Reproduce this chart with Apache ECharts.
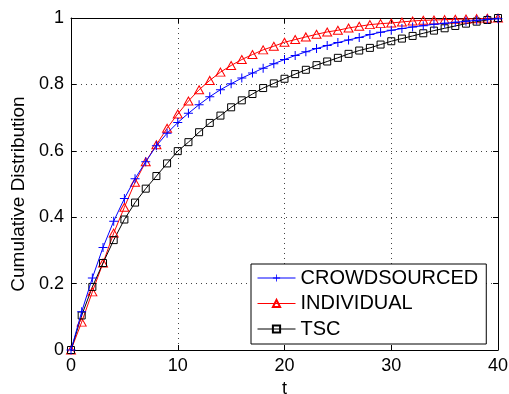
<!DOCTYPE html>
<html>
<head>
<meta charset="utf-8">
<script src="https://cdn.jsdelivr.net/npm/echarts@6/dist/echarts.min.js"></script>
<style>
  html, body { margin: 0; padding: 0; background: #fff; }
  #chart { width: 509px; height: 394px; }
</style>
</head>
<body>
<div id="chart"></div>
<script>
// t values (x axis)
var tValues = [0, 1, 2, 3, 4, 5, 6, 7, 8, 9, 10, 11, 12, 13, 14, 15, 16, 17, 18, 19, 20,
  21, 22, 23, 24, 25, 26, 27, 28, 29, 30, 31, 32, 33, 34, 35, 36, 37, 38, 39, 40];

// cumulative distribution
var crowdsourced = [0, 0.115, 0.217, 0.309, 0.388, 0.456, 0.516, 0.567, 0.615, 0.653, 0.685,
  0.713, 0.739, 0.763, 0.784, 0.802, 0.819, 0.834, 0.849, 0.862, 0.875,
  0.887, 0.898, 0.908, 0.917, 0.926, 0.934, 0.941, 0.950, 0.957, 0.963,
  0.968, 0.973, 0.977, 0.981, 0.984, 0.987, 0.990, 0.993, 0.996, 0.998];
var individual = [0, 0.084, 0.175, 0.262, 0.352, 0.430, 0.505, 0.567, 0.618, 0.668, 0.711,
  0.750, 0.784, 0.812, 0.837, 0.857, 0.875, 0.890, 0.904, 0.915, 0.927,
  0.935, 0.943, 0.951, 0.958, 0.963, 0.970, 0.975, 0.980, 0.983, 0.985,
  0.988, 0.991, 0.993, 0.994, 0.995, 0.996, 0.997, 0.998, 0.999, 1.0];
var tsc = [0, 0.104, 0.190, 0.262, 0.331, 0.393, 0.444, 0.486, 0.524, 0.562, 0.599,
  0.626, 0.656, 0.684, 0.706, 0.731, 0.752, 0.771, 0.789, 0.803, 0.817,
  0.831, 0.844, 0.858, 0.869, 0.880, 0.892, 0.902, 0.910, 0.920, 0.930,
  0.938, 0.946, 0.954, 0.962, 0.969, 0.976, 0.983, 0.989, 0.994, 1.0];

var xTicks = [0, 10, 20, 30, 40];
var yTicks = [0, 0.2, 0.4, 0.6, 0.8, 1];

function pairs(ys) {
  return tValues.map(function (t, i) { return [t, ys[i]]; });
}

var FONT = 'Liberation Sans, Arial, Helvetica, sans-serif';
var plusPath = 'path://M4,0H5V4H9V5H5V9H4V5H0V4H4Z';

var chart = echarts.init(document.getElementById('chart'), null, { renderer: 'canvas' });

var boxAxis = {
  show: true,
  axisLine: { show: true, onZero: false, lineStyle: { color: '#000', width: 1 } },
  axisTick: { show: true, inside: true, length: 5, lineStyle: { color: '#000' } },
  axisLabel: { show: false },
  splitLine: { show: false }
};

var option = {
  animation: false,
  backgroundColor: '#fff',
  grid: { left: 71, right: 11, top: 18, bottom: 44, containLabel: false, outerBoundsMode: 'none' },
  xAxis: [{
    type: 'value', min: 0, max: 40, interval: 10,
    name: 't', nameLocation: 'middle', nameGap: 28,
    nameTextStyle: { fontFamily: FONT, fontSize: 18, color: '#000' },
    axisLine: { show: true, onZero: false, lineStyle: { color: '#000', width: 1 } },
    axisTick: { show: true, inside: true, length: 5, lineStyle: { color: '#000' } },
    axisLabel: { fontFamily: FONT, fontSize: 18, color: '#000', margin: 7,
      formatter: function (v) { return xTicks.indexOf(v) >= 0 ? String(v) : ''; } },
    splitLine: { show: true, lineStyle: { color: '#444', type: [1, 4], width: 1 } }
  }, Object.assign({ type: 'value', min: 0, max: 40, interval: 10, position: 'top' }, boxAxis)],
  yAxis: [{
    type: 'value', min: 0, max: 1, interval: 0.2,
    name: 'Cumulative Distribution', nameLocation: 'middle', nameGap: 40,
    nameTextStyle: { fontFamily: FONT, fontSize: 19, color: '#000', padding: [0, 20, 0, 0] },
    axisLine: { show: true, onZero: false, lineStyle: { color: '#000', width: 1 } },
    axisTick: { show: true, inside: true, length: 5, lineStyle: { color: '#000' } },
    axisLabel: { fontFamily: FONT, fontSize: 18, color: '#000', margin: 7,
      formatter: function (v) {
        var r = Math.round(v * 10) / 10;
        return yTicks.indexOf(r) >= 0 ? String(r) : '';
      } },
    splitLine: { show: true, lineStyle: { color: '#444', type: [1, 4], width: 1 } }
  }, Object.assign({ type: 'value', min: 0, max: 1, interval: 0.2, position: 'right' }, boxAxis)],
  legend: {
    orient: 'vertical', left: 251, top: 264,
    backgroundColor: '#fff', borderColor: '#000', borderWidth: 1,
    padding: [4, 8, 5, 6],
    itemWidth: 38, itemHeight: 9, itemGap: 5.5,
    lineStyle: { width: 1 },
    textStyle: { fontFamily: FONT, fontSize: 20, color: '#000', lineHeight: 20 },
    data: ['CROWDSOURCED', 'INDIVIDUAL', 'TSC']
  },
  series: [{
    name: 'CROWDSOURCED', type: 'line', data: pairs(crowdsourced),
    symbol: plusPath, symbolSize: 9, showAllSymbol: true,
    lineStyle: { color: '#0000ff', width: 1 },
    itemStyle: { color: '#0000ff' },
    z: 3
  }, {
    name: 'INDIVIDUAL', type: 'line', data: pairs(individual),
    symbol: 'triangle', symbolSize: [9, 8], showAllSymbol: true,
    lineStyle: { color: '#ff0000', width: 1 },
    itemStyle: { color: 'rgba(255,255,255,0)', borderColor: '#ff0000', borderWidth: 1 },
    z: 2
  }, {
    name: 'TSC', type: 'line', data: pairs(tsc),
    symbol: 'rect', symbolSize: 7, showAllSymbol: true,
    lineStyle: { color: '#000', width: 1 },
    itemStyle: { color: 'rgba(255,255,255,0)', borderColor: '#000', borderWidth: 1 },
    z: 2
  }]
};

chart.setOption(option);
</script>
</body>
</html>
